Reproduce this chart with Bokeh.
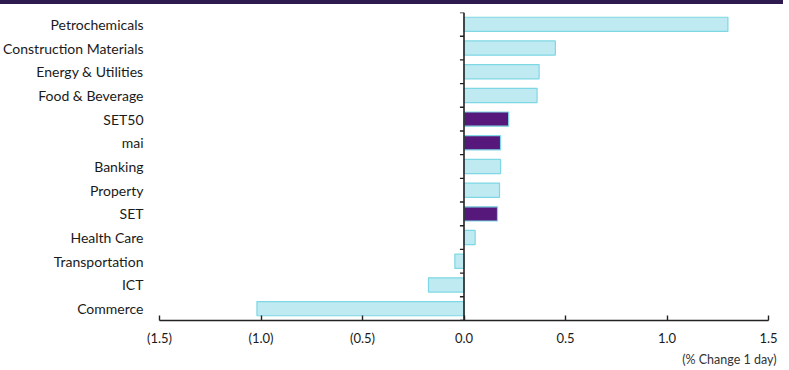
from bokeh.plotting import figure
from bokeh.models import (Range1d, FixedTicker, CustomJSTickFormatter, Span, Title,
                          ColumnDataSource, Div)
from bokeh.layouts import column
from bokeh.embed import file_html
from bokeh.resources import INLINE
import numpy as np

# ---- data (top to bottom) ----
categories = ["Petrochemicals", "Construction Materials", "Energy & Utilities",
              "Food & Beverage", "SET50", "mai", "Banking", "Property", "SET",
              "Health Care", "Transportation", "ICT", "Commerce"]
values = [1.30, 0.45, 0.37, 0.36, 0.22, 0.18, 0.18, 0.175, 0.165,
          0.055, -0.045, -0.175, -1.02]
highlight = ["SET50", "mai", "SET"]
x_ticks = [-1.5, -1.0, -0.5, 0.0, 0.5, 1.0, 1.5]
x_note = "(% Change 1 day)"

FONT = "Lato"
LIGHT_FILL = "#c0eaf1"
EDGE = "#7dd7e4"
PURPLE = "#56187a"
BAND = "#2e1a4f"

n = len(categories)
ypos = [n - 1 - i for i in range(n)]
fills = [PURPLE if c in highlight else LIGHT_FILL for c in categories]
src = ColumnDataSource(dict(y=ypos, v=values, fill=fills, name=categories))

p = figure(width=789, height=366, output_backend="svg", toolbar_location=None,
           x_range=Range1d(-1.5, 1.5), y_range=Range1d(-0.5, n - 0.5),
           min_border_left=157, min_border_right=21, min_border_top=8,
           min_border_bottom=50)
p.outline_line_color = None
p.xgrid.visible = False
p.ygrid.visible = False
p.background_fill_color = "white"
p.border_fill_color = "white"

p.hbar(y="y", left=0, right="v", height=0.6, fill_color="fill",
       line_color=EDGE, line_width=1.2, source=src)

# vertical zero line with category boundary ticks
p.add_layout(Span(location=0, dimension="height", line_color="#222222", line_width=1.6))
bounds = np.arange(n + 1) - 0.5
p.segment(x0=[-0.02] * len(bounds), x1=[0] * len(bounds), y0=bounds, y1=bounds,
          line_color="#222222", line_width=1.4)

# x axis
xa = p.xaxis[0]
xa.ticker = FixedTicker(ticks=x_ticks)
xa.formatter = CustomJSTickFormatter(code="""
    return tick < 0 ? "(" + Math.abs(tick).toFixed(1) + ")" : tick.toFixed(1);
""")
xa.axis_line_color = "#222222"
xa.axis_line_width = 1.6
xa.major_tick_in = 5
xa.major_tick_out = 0
xa.major_tick_line_color = "#222222"
xa.major_tick_line_width = 1.4
xa.minor_tick_line_color = None
xa.major_label_text_font = FONT
xa.major_label_text_font_size = "13px"
xa.major_label_text_color = "#1a1a1a"
xa.major_label_standoff = 9

# y axis (labels only)
ya = p.yaxis[0]
ya.ticker = FixedTicker(ticks=ypos)
ya.major_label_overrides = {y: c for y, c in zip(ypos, categories)}
ya.axis_line_color = None
ya.major_tick_line_color = None
ya.minor_tick_line_color = None
ya.major_label_text_font = FONT
ya.major_label_text_font_size = "14px"
ya.major_label_text_color = "#1a1a1a"
ya.major_label_standoff = 10

p.add_layout(Title(text=x_note, align="right", text_font=FONT, text_font_size="12.5px",
                   text_font_style="normal", text_color="#333333", offset=-8,
                   standoff=3), "below")

band = Div(text="", width=783, height=4, margin=(0, 0, 0, 0),
           styles={"background-color": BAND})
layout = column(band, p, spacing=0, margin=(0, 0, 0, 0))

open("out.html", "w").write(file_html(layout, INLINE))
